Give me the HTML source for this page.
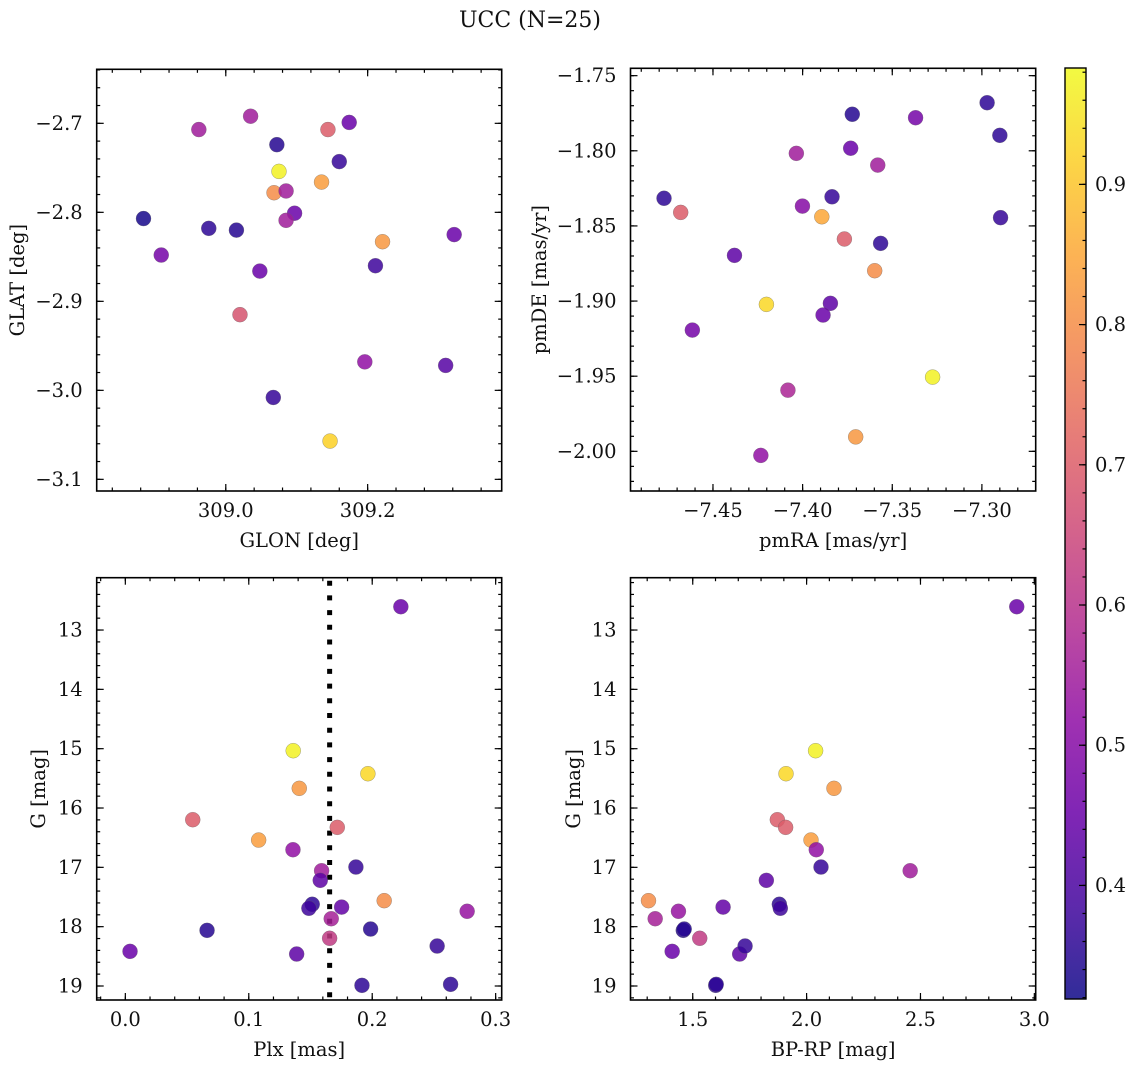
<!DOCTYPE html>
<html><head><meta charset="utf-8"><title>UCC (N=25)</title>
<style>
html,body{margin:0;padding:0;background:#fff;}
svg{display:block;font-family:"DejaVu Serif","Liberation Serif",serif;}
</style></head>
<body>
<svg id="fig" width="1136" height="1067" viewBox="0 0 1136 1067" xmlns="http://www.w3.org/2000/svg">
<defs>
<linearGradient id="plasmaGrad" x1="0" y1="1" x2="0" y2="0">
<stop offset="0" stop-color="#0d0887"/><stop offset="0.1" stop-color="#41049d"/><stop offset="0.2" stop-color="#6a00a8"/><stop offset="0.3" stop-color="#8f0da4"/><stop offset="0.4" stop-color="#b12a90"/><stop offset="0.5" stop-color="#cc4778"/><stop offset="0.6" stop-color="#e16462"/><stop offset="0.7" stop-color="#f2844b"/><stop offset="0.8" stop-color="#fca636"/><stop offset="0.9" stop-color="#fcce25"/><stop offset="1" stop-color="#f0f921"/>
</linearGradient>
</defs>
<text x="530" y="27" font-size="22" text-anchor="middle" fill="#111">UCC (N=25)</text>
</svg>
<script>
// Panel 1: GLON vs GLAT
const p1_glon = [308.962,309.035,309.072,309.075,309.068,309.085,309.144,309.174,309.160,309.135,309.097,309.085,308.884,308.976,309.015,308.909,309.048,309.221,309.322,309.211,309.020,309.196,309.310,309.067,309.147];
const p1_glat = [-2.707,-2.692,-2.724,-2.754,-2.778,-2.776,-2.707,-2.699,-2.743,-2.766,-2.801,-2.809,-2.807,-2.818,-2.820,-2.848,-2.866,-2.833,-2.825,-2.860,-2.915,-2.968,-2.972,-3.008,-3.057];
const p1_c = [0.55,0.55,0.35,0.97,0.80,0.55,0.70,0.45,0.37,0.83,0.45,0.55,0.33,0.36,0.35,0.47,0.45,0.82,0.45,0.38,0.68,0.52,0.42,0.37,0.92];
// Panel 2: pmRA vs pmDE
const p2_pmra = [-7.4773,-7.468,-7.438,-7.4615,-7.4202,-7.4035,-7.4001,-7.4082,-7.4233,-7.3893,-7.3723,-7.3732,-7.3836,-7.3767,-7.3845,-7.3886,-7.3581,-7.3565,-7.3598,-7.3704,-7.337,-7.3275,-7.2971,-7.29,-7.2896];
const p2_pmde = [-1.8316,-1.841,-1.8696,-1.9193,-1.9022,-1.8017,-1.8368,-1.9593,-2.0027,-1.8439,-1.7757,-1.7983,-1.8306,-1.8587,-1.9015,-1.9093,-1.8095,-1.8616,-1.8798,-1.9904,-1.778,-1.9506,-1.768,-1.7897,-1.8445];
const p2_c = [0.36,0.70,0.43,0.47,0.93,0.55,0.50,0.57,0.52,0.85,0.35,0.45,0.37,0.70,0.43,0.45,0.55,0.36,0.80,0.82,0.47,0.97,0.36,0.36,0.37];
// Panels 3 & 4: Plx / BP-RP vs G (same star order)
const p3_plx = [0.2232,0.1360,0.1965,0.1409,0.0546,0.1717,0.1080,0.1358,0.1868,0.1590,0.1579,0.1514,0.1487,0.1752,0.2097,0.2769,0.1668,0.1655,0.0662,0.1987,0.0038,0.1388,0.2526,0.1917,0.2635];
const p4_bprp = [2.9228,2.0395,1.9096,2.1202,1.8715,1.9079,2.0193,2.0425,2.0632,2.4548,1.8232,1.8803,1.8846,1.6333,1.3057,1.4373,1.3351,1.5307,1.4585,1.4625,1.4097,1.7061,1.7298,1.6009,1.6030];
const g_mag = [12.607,15.034,15.422,15.668,16.197,16.326,16.54,16.703,16.995,17.057,17.219,17.623,17.69,17.67,17.562,17.741,17.866,18.196,18.062,18.04,18.416,18.461,18.326,18.989,18.972];
const g_c = [0.45,0.97,0.93,0.82,0.70,0.70,0.83,0.52,0.37,0.55,0.43,0.36,0.38,0.44,0.80,0.53,0.56,0.62,0.35,0.35,0.45,0.43,0.37,0.36,0.36];
const plx_median = [0.1655];
const cbar_ticks = [0.4,0.5,0.6,0.7,0.8,0.9];
const c_range = [0.319,0.983];

const NS = "http://www.w3.org/2000/svg";
const svg = document.getElementById('fig');
function mk(tag, attrs, parent){ const e=document.createElementNS(NS,tag); for(const k in attrs) e.setAttribute(k,attrs[k]); (parent||svg).appendChild(e); return e; }

const stops=[[13,8,135],[65,4,157],[106,0,168],[143,13,164],[177,42,144],[204,71,120],[225,100,98],[242,132,75],[252,166,54],[252,206,37],[240,249,33]];
function plasma(t){ t=Math.max(0,Math.min(1,t)); const f=t*10, i=Math.min(9,Math.floor(f)), r=f-i; const a=stops[i], b=stops[i+1]; return 'rgb('+a.map((v,k)=>Math.round(v+(b[k]-v)*r)).join(',')+')'; }
function cmap(c){ return plasma((c-c_range[0])/(c_range[1]-c_range[0])); }
function fmt(v,d){ const s=v.toFixed(d); return s.replace('-','\u2212'); }
const FS=19.5;

function panel(cfg){
  const g = mk('g',{});
  
  
  const {x0,x1,y0,y1}=cfg.box;
  const sx=v=>x0+(v-cfg.xlim[0])/(cfg.xlim[1]-cfg.xlim[0])*(x1-x0);
  const sy=v=>y0+(v-cfg.ylim[0])/(cfg.ylim[1]-cfg.ylim[0])*(y1-y0);
  function ticksX(step,len,major){
    const s=Math.ceil(Math.min(cfg.xlim[0],cfg.xlim[1])/step-1e-6), e=Math.floor(Math.max(cfg.xlim[0],cfg.xlim[1])/step+1e-6);
    for(let k=s;k<=e;k++){ const v=k*step, x=sx(v);
      mk('line',{x1:x,x2:x,y1:y1,y2:y1-len,stroke:'#000','stroke-width':1.2},g);
      mk('line',{x1:x,x2:x,y1:y0,y2:y0+len,stroke:'#000','stroke-width':1.2},g);
      if(major){ const t=mk('text',{x:x,y:y1+26,'font-size':FS,'text-anchor':'middle',fill:'#111'},g); t.textContent=fmt(v,cfg.xdec);
          }
    }
  }
  function ticksY(step,len,major){
    const lo=Math.min(cfg.ylim[0],cfg.ylim[1]), hi=Math.max(cfg.ylim[0],cfg.ylim[1]);
    const s=Math.ceil(lo/step-1e-6), e=Math.floor(hi/step+1e-6);
    for(let k=s;k<=e;k++){ const v=k*step, y=sy(v);
      mk('line',{x1:x0,x2:x0+len,y1:y,y2:y,stroke:'#000','stroke-width':1.2},g);
      mk('line',{x1:x1,x2:x1-len,y1:y,y2:y,stroke:'#000','stroke-width':1.2},g);
      if(major){ const t=mk('text',{x:x0-14,y:y+6.5,'font-size':FS,'text-anchor':'end',fill:'#111'},g); t.textContent=fmt(v,cfg.ydec);
          }
    }
  }
  ticksX(cfg.xminor,3.5,false); ticksX(cfg.xmajor,7,true);
  ticksY(cfg.yminor,3.5,false); ticksY(cfg.ymajor,7,true);
  if(cfg.vline){ cfg.vline.forEach(v=>{ const l=mk('line',{x1:sx(v),x2:sx(v),y1:y0+3,y2:y1,stroke:'#000','stroke-width':5,'stroke-dasharray':'5,9.7'},g);
      }); }
  for(let i=0;i<cfg.xs.length;i++){
    const c=mk('circle',{cx:sx(cfg.xs[i]),cy:sy(cfg.ys[i]),r:7.5,fill:cmap(cfg.cs[i]),'fill-opacity':0.85,stroke:'#666','stroke-opacity':0.6,'stroke-width':0.5},g);
    
    
  }
  const fr=mk('rect',{x:x0,y:y0,width:x1-x0,height:y1-y0,fill:'none',stroke:'#000','stroke-width':1.6},g);
   
  const xl=mk('text',{x:(x0+x1)/2,y:y1+56,'font-size':FS,'text-anchor':'middle',fill:'#111'},g); xl.textContent=cfg.xlabel;
   
  const yl=mk('text',{x:0,y:0,'font-size':FS,'text-anchor':'middle',fill:'#111',transform:'translate('+cfg.ylx+','+((y0+y1)/2)+') rotate(-90)'},g); yl.textContent=cfg.ylabel;
   
}

panel({name:'panel-glon-glat',box:{x0:96.7,x1:501.7,y0:69.3,y1:491},xlim:[308.818,309.389],ylim:[-2.6393,-3.1131],
  xmajor:0.2,xminor:0.04,ymajor:0.1,yminor:0.02,xdec:1,ydec:1,xs:p1_glon,ys:p1_glat,cs:p1_c,xlabel:'GLON [deg]',ylabel:'GLAT [deg]',ylx:24});
panel({name:'panel-pmra-pmde',box:{x0:630.5,x1:1035.7,y0:68.3,y1:491},xlim:[-7.496,-7.270],ylim:[-1.7451,-2.0264],
  xmajor:0.05,xminor:0.01,ymajor:0.05,yminor:0.01,xdec:2,ydec:2,xs:p2_pmra,ys:p2_pmde,cs:p2_c,xlabel:'pmRA [mas/yr]',ylabel:'pmDE [mas/yr]',ylx:546});
panel({name:'panel-plx-g',box:{x0:96.7,x1:501.7,y0:577.7,y1:1000},xlim:[-0.0232,0.3049],ylim:[12.118,19.236],
  xmajor:0.1,xminor:0.02,ymajor:1,yminor:0.2,xdec:1,ydec:0,xs:p3_plx,ys:g_mag,cs:g_c,xlabel:'Plx [mas]',ylabel:'G [mag]',ylx:45,vline:plx_median});
panel({name:'panel-bprp-g',box:{x0:630.5,x1:1035.7,y0:577.7,y1:1000},xlim:[1.2267,3.006],ylim:[12.118,19.236],
  xmajor:0.5,xminor:0.1,ymajor:1,yminor:0.2,xdec:1,ydec:0,xs:p4_bprp,ys:g_mag,cs:g_c,xlabel:'BP-RP [mag]',ylabel:'G [mag]',ylx:580});

const cb=mk('g',{});


const cbx0=1065,cbx1=1086,cby0=68,cby1=999;
mk('rect',{x:cbx0,y:cby0,width:cbx1-cbx0,height:cby1-cby0,fill:'url(#plasmaGrad)','fill-opacity':0.85},cb);
const cy=v=>cby1-(v-c_range[0])/(c_range[1]-c_range[0])*(cby1-cby0);
for(let k=Math.ceil(c_range[0]/0.02);k<=Math.floor(c_range[1]/0.02);k++){ const y=cy(k*0.02);
  mk('line',{x1:cbx1,x2:cbx1-3.5,y1:y,y2:y,stroke:'#000','stroke-width':1.2},cb); }
cbar_ticks.forEach(v=>{ const y=cy(v);
  mk('line',{x1:cbx1,x2:cbx1-7,y1:y,y2:y,stroke:'#000','stroke-width':1.2},cb);
  const t=mk('text',{x:cbx1+9,y:y+6.5,'font-size':FS,fill:'#111'},cb); t.textContent=v.toFixed(1);
  
  
});
mk('rect',{x:cbx0,y:cby0,width:cbx1-cbx0,height:cby1-cby0,fill:'none',stroke:'#000','stroke-width':1.4},cb);
</script>
</body></html>
